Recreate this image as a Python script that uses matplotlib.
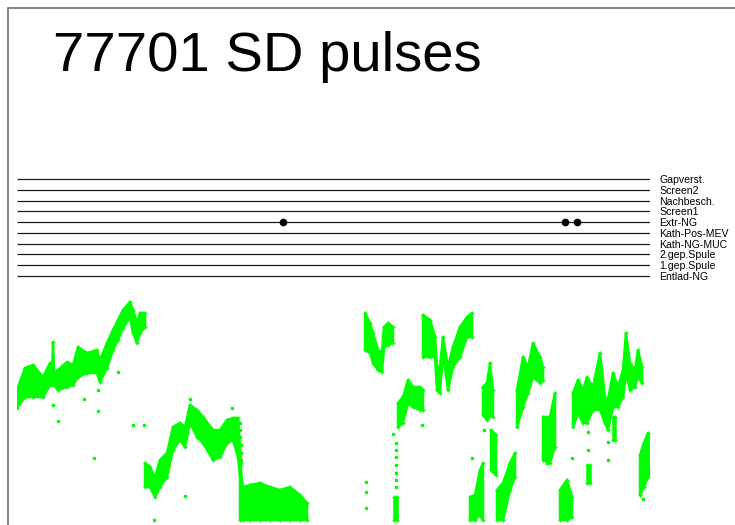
import numpy as np
import matplotlib
matplotlib.use("Agg")
import matplotlib.pyplot as plt
from matplotlib.patches import Rectangle

plt.rcParams['font.family'] = ['Liberation Sans', 'DejaVu Sans']

nan = np.nan

# channel names, bottom to top
channels = ["Entlad-NG", "1.gep.Spule", "2.gep.Spule", "Kath-NG-MUC", "Kath-Pos-MEV",
            "Extr-NG", "Screen1", "Nachbesch.", "Screen2", "Gapverst."]

# pulse events (time units), all on Extr-NG
event_t = [266, 548, 560]
event_ch = ["Extr-NG", "Extr-NG", "Extr-NG"]

# green signal: envelope (upper / lower) of the sample cloud, bursts split by nan
sig_t = [0, 8, 16, 26, 33, 35, 36, 37, 41, 50, 56, 61, 70, 80, 83, 90, 96, 101, 106, 113, 116, 120, 123, 128, nan,
         128, 133, 138, 143, 150, 156, 163, 168, 173, 180, 186, 196, 203, 210, 216, 221, 224, nan,
         223, 226, 233, 243, 253, 263, 273, 283, 290, nan,
         348, 353, 356, 361, 365, 367, 371, 376, nan,
         377, 380, nan,
         381, 386, 391, 396, 403, 406, nan,
         406, 413, 418, 420, 423, 426, 431, 436, 443, 450, 455, nan,
         453, 458, 463, 466, nan,
         466, 470, 473, 476, nan,
         474, 479, nan,
         480, 486, 493, 498, nan,
         500, 506, 511, 516, 523, 526, nan,
         526, 533, 538, nan,
         543, 550, 555, nan,
         556, 561, 566, 570, 576, 583, 588, 591, 596, 601, 606, 609, 613, 618, 621, 625, nan,
         570, 573, nan,
         596, 598, nan,
         623, 627, 631, 635]
sig_hi = [135, 157, 160, 148, 162, 152, 183, 152, 155, 163, 160, 178, 172, 175, 165, 182, 195, 205, 215, 223, 215, 202, 212, 212, nan,
          62, 58, 48, 65, 72, 98, 102, 98, 120, 115, 108, 95, 95, 105, 107, 107, 62, nan,
          60, 38, 40, 42, 38, 35, 38, 30, 22, nan,
          212, 202, 192, 175, 172, 198, 202, 198, nan,
          28, 28, nan,
          122, 128, 145, 138, 138, 135, nan,
          210, 205, 188, 158, 158, 188, 158, 178, 198, 208, 212, nan,
          28, 30, 55, 62, nan,
          138, 142, 162, 135, nan,
          95, 90, nan,
          35, 42, 62, 72, nan,
          135, 168, 158, 182, 168, 158, nan,
          108, 108, 132, nan,
          35, 45, 28, nan,
          132, 145, 135, 148, 138, 172, 128, 125, 152, 138, 155, 192, 162, 155, 175, 158, nan,
          60, 60, nan,
          108, 108, nan,
          70, 82, 92, 88]
sig_lo = [117, 128, 128, 128, 140, 140, 142, 140, 135, 138, 140, 148, 152, 152, 143, 157, 175, 185, 197, 208, 192, 182, 192, 198, nan,
          38, 38, 28, 38, 48, 75, 85, 78, 102, 88, 82, 65, 68, 82, 85, 68, 40, nan,
          5, 5, 5, 5, 5, 5, 5, 5, 5, nan,
          175, 172, 162, 155, 153, 178, 180, 182, nan,
          5, 5, nan,
          98, 102, 122, 118, 115, 115, nan,
          168, 168, 168, 135, 132, 172, 135, 158, 168, 188, 188, nan,
          5, 5, 10, 5, nan,
          110, 105, 110, 108, nan,
          55, 50, nan,
          5, 5, 35, 48, nan,
          98, 118, 132, 148, 142, 145, nan,
          65, 62, 78, nan,
          5, 5, 8, nan,
          98, 112, 102, 102, 115, 115, 102, 95, 118, 118, 128, 152, 135, 138, 148, 142, nan,
          42, 42, nan,
          85, 85, nan,
          30, 38, 48, 55]

# isolated samples
dot_t = [36, 41, 67, 81, 81, 77, 101, 116, 127, 168, 137, 173, 215,
         223, 223, 223, 224, 224, 224,
         349, 349, 349, 376, 405, 455, 467,
         379, 379, 379, 379, 379, 379, 379,
         555, 571, 571, 591, 591, 626, 530]
dot_amp = [120, 104, 126, 135, 114, 67, 153, 100, 100, 29, 5, 126, 117,
           102, 95, 88, 80, 72, 65,
           43, 33, 17, 91, 100, 67, 95,
           82, 75, 68, 60, 52, 45, 38,
           67, 93, 75, 65, 83, 26, 62]

W, H = 735, 525
fig = plt.figure(figsize=(W / 100, H / 100), dpi=100)

# frame, running off the right and bottom edge
fig.patches.append(Rectangle((8 / W, -0.1), 1.2, (H - 8) / H + 0.1, transform=fig.transFigure,
                             fill=False, edgecolor="#707070", linewidth=1.2))

fig.text(53 / W, 1 - 71 / H, "77701 SD pulses", fontsize=40.5, color="black",
         ha="left", va="baseline")

x0, x1 = 17 / W, 650 / W

# channel lines
ax = fig.add_axes([x0, 1 - 286.8 / H, x1 - x0, 118.6 / H])
ax.set_xlim(0, 633)
ax.set_ylim(-1, 10)
ypos = np.arange(len(channels))
ax.hlines(ypos, 0, 633, color="#1a1a1a", linewidth=0.9)
ev_y = [channels.index(c) for c in event_ch]
ax.plot(event_t, ev_y, "o", color="black", markersize=4.5, linestyle="none")
ax.set_yticks(ypos)
ax.set_yticklabels(channels, fontsize=7.6)
ax.yaxis.tick_right()
ax.tick_params(axis="y", length=0, pad=6.5)
ax.set_xticks([])
for s in ax.spines.values():
    s.set_visible(False)
ax.patch.set_alpha(0)

# green signal
green = "#00ff00"
ax2 = fig.add_axes([x0, 0, x1 - x0, 227 / H])
ax2.set_xlim(0, 633)
ax2.set_ylim(0, 227)
ax2.fill_between(sig_t, sig_lo, sig_hi, facecolor=green, edgecolor=green, linewidth=1.8)
# sample markers along the envelope edges
ax2.plot(sig_t, sig_hi, "+", color=green, markersize=3.5, markeredgewidth=1, linestyle="none")
ax2.plot(sig_t, sig_lo, "+", color=green, markersize=3.5, markeredgewidth=1, linestyle="none")
ax2.plot(dot_t, dot_amp, "s", color=green, markersize=1.8, linestyle="none")
ax2.set_axis_off()

fig.savefig("out.png", dpi=100)
